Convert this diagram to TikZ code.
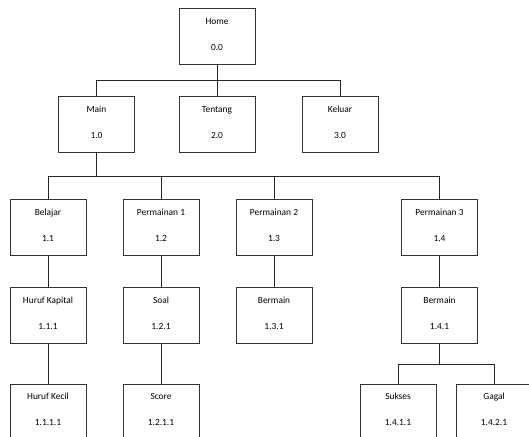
\documentclass[tikz,border=0pt]{standalone}
\usepackage{fontspec}
\setmainfont{Carlito}
\usepackage{tikz}

\begin{document}
\begin{tikzpicture}[x=1pt, y=1pt,
    menu/.style={draw=black!80, line width=0.9pt, rectangle, minimum width=76pt, minimum height=56pt,
                 align=center, font=\fontsize{9.4}{11}\selectfont, inner sep=0pt},
    link/.style={draw=black!85, line width=0.9pt}]
    \useasboundingbox (0,0) rectangle (529,-436);
    \clip (0,0) rectangle (529,-436);
    \node[menu] (home) at (217,-36.5) {Home\\[15pt]0.0\rule[-5pt]{0pt}{5pt}};
    \node[menu] (main) at (96.5,-124.5) {Main\\[15pt]1.0\rule[-5pt]{0pt}{5pt}};
    \node[menu] (tentang) at (217,-124.5) {Tentang\\[15pt]2.0\rule[-5pt]{0pt}{5pt}};
    \node[menu] (keluar) at (340,-124.5) {Keluar\\[15pt]3.0\rule[-5pt]{0pt}{5pt}};
    \node[menu] (belajar) at (48,-227.5) {Belajar\\[15pt]1.1\rule[-5pt]{0pt}{5pt}};
    \node[menu] (game1) at (161,-227.5) {Permainan 1\\[15pt]1.2\rule[-5pt]{0pt}{5pt}};
    \node[menu] (game2) at (274,-227.5) {Permainan 2\\[15pt]1.3\rule[-5pt]{0pt}{5pt}};
    \node[menu] (game3) at (439.5,-227.5) {Permainan 3\\[15pt]1.4\rule[-5pt]{0pt}{5pt}};
    \node[menu] (kapital) at (48,-315.5) {Huruf Kapital\\[15pt]1.1.1\rule[-5pt]{0pt}{5pt}};
    \node[menu] (soal) at (161,-315.5) {Soal\\[15pt]1.2.1\rule[-5pt]{0pt}{5pt}};
    \node[menu] (main2) at (274,-315.5) {Bermain\\[15pt]1.3.1\rule[-5pt]{0pt}{5pt}};
    \node[menu] (main3) at (439.5,-315.5) {Bermain\\[15pt]1.4.1\rule[-5pt]{0pt}{5pt}};
    \node[menu] (kecil) at (48,-412) {Huruf Kecil\\[15pt]1.1.1.1\rule[-5pt]{0pt}{5pt}};
    \node[menu] (score) at (161,-412) {Score\\[15pt]1.2.1.1\rule[-5pt]{0pt}{5pt}};
    \node[menu] (sukses) at (398,-412) {Sukses\\[15pt]1.4.1.1\rule[-5pt]{0pt}{5pt}};
    \node[menu] (gagal) at (494,-412) {Gagal\\[15pt]1.4.2.1\rule[-5pt]{0pt}{5pt}};
    \draw[link] (home.south) -- ++(0,-15) coordinate (busA);
    \draw[link] (busA) -| (main.north);
    \draw[link] (busA) -| (keluar.north);
    \draw[link] (busA) -- (tentang.north);
    \draw[link] (main.south) -- ++(0,-23) coordinate (busB);
    \draw[link] (busB) -| (belajar.north);
    \draw[link] (busB) -| (game1.north);
    \draw[link] (busB) -| (game2.north);
    \draw[link] (busB) -| (game3.north);
    \draw[link] (belajar) -- (kapital);
    \draw[link] (kapital) -- (kecil);
    \draw[link] (game1) -- (soal);
    \draw[link] (soal) -- (score);
    \draw[link] (game2) -- (main2);
    \draw[link] (game3) -- (main3);
    \draw[link] (main3.south) -- ++(0,-20.5) coordinate (busC);
    \draw[link] (busC) -| (sukses.north);
    \draw[link] (busC) -| (gagal.north);
\end{tikzpicture}
\end{document}
